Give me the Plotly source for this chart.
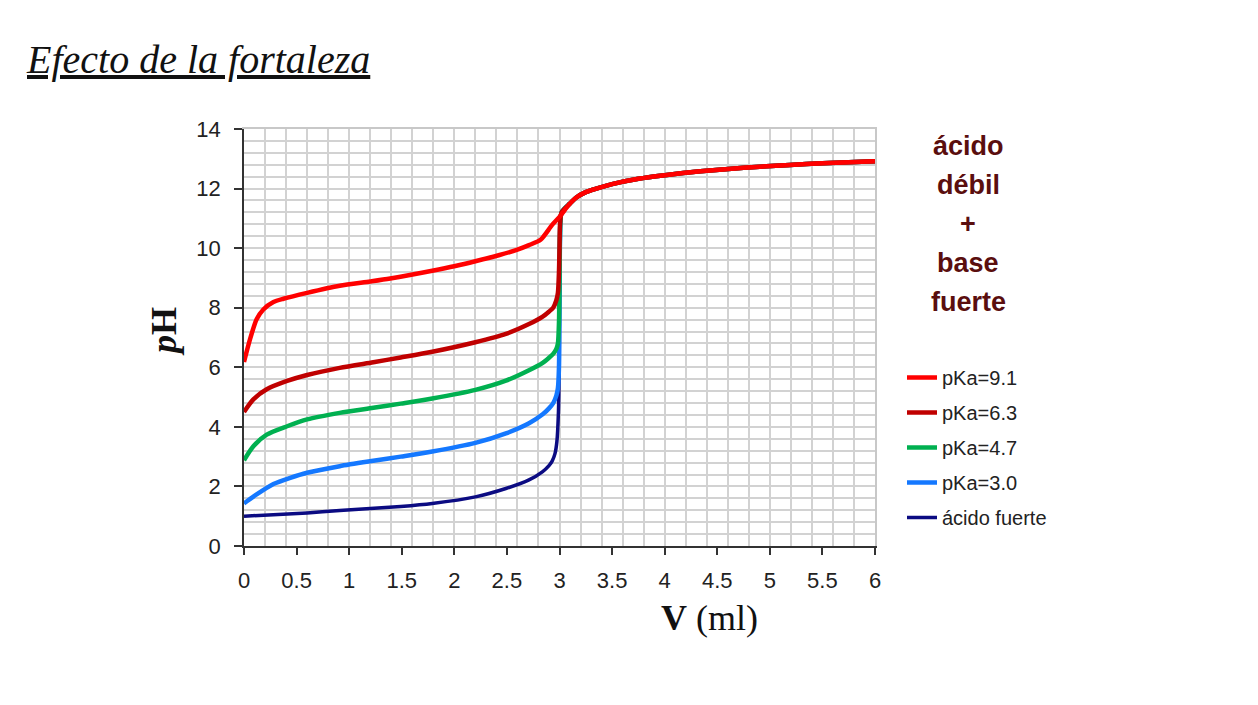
import plotly.graph_objects as go

# ---- data ----
# shared part after the equivalence point (all curves coincide there)
V_tail = [3.10, 3.16, 3.25, 3.35, 3.5, 3.75, 4.0, 4.34, 4.75, 5.19, 5.5, 6.0]
pH_tail = [11.50, 11.70, 11.88, 12.00, 12.15, 12.33, 12.45, 12.58, 12.70, 12.79, 12.85, 12.92]

V_pka91 = [0, 0.057, 0.12, 0.184, 0.28, 0.375, 0.6, 0.91, 1.2, 1.39, 1.79, 2.01, 2.2, 2.43, 2.6, 2.71, 2.82, 2.93, 3.0, 3.05]
pH_pka91 = [6.18, 6.94, 7.61, 7.94, 8.19, 8.30, 8.50, 8.74, 8.88, 8.98, 9.24, 9.40, 9.56, 9.77, 9.95, 10.1, 10.28, 10.78, 11.05, 11.28]

V_pka63 = [0, 0.089, 0.216, 0.41, 0.6, 0.91, 1.23, 1.49, 1.79, 2.2, 2.49, 2.71, 2.84, 2.9, 2.94, 2.97, 2.985, 2.995, 3.0, 3.005, 3.02]
pH_pka63 = [4.50, 4.92, 5.26, 5.54, 5.74, 5.98, 6.17, 6.33, 6.52, 6.84, 7.12, 7.45, 7.70, 7.87, 8.0, 8.25, 8.5, 9.2, 10.0, 10.8, 11.2]

V_pka47 = [0, 0.089, 0.216, 0.41, 0.6, 0.91, 1.23, 1.49, 1.79, 2.2, 2.49, 2.71, 2.84, 2.9, 2.94, 2.97, 2.985, 2.995, 3.0, 3.005, 3.02]
pH_pka47 = [2.88, 3.35, 3.74, 4.02, 4.25, 4.47, 4.64, 4.78, 4.95, 5.24, 5.55, 5.90, 6.15, 6.32, 6.45, 6.62, 6.8, 7.5, 8.8, 10.5, 11.2]

V_pka30 = [0, 0.12, 0.28, 0.44, 0.6, 0.91, 1.23, 1.49, 1.79, 2.2, 2.49, 2.71, 2.84, 2.9, 2.94, 2.97, 2.985, 2.995, 3.0, 3.005, 3.02]
pH_pka30 = [1.43, 1.73, 2.08, 2.29, 2.46, 2.68, 2.86, 3.0, 3.17, 3.46, 3.78, 4.12, 4.42, 4.62, 4.8, 5.05, 5.3, 6.0, 8.0, 10.3, 11.2]

V_fuerte = [0, 0.6, 0.91, 1.2, 1.49, 1.79, 2.2, 2.49, 2.71, 2.84, 2.9, 2.93, 2.957, 2.975, 2.99, 2.997, 3.0, 3.005, 3.02]
pH_fuerte = [1.0, 1.11, 1.19, 1.26, 1.33, 1.43, 1.65, 1.93, 2.22, 2.5, 2.7, 2.85, 3.1, 3.5, 4.5, 6.0, 8.0, 10.3, 11.2]

series_names = ["pKa=9.1", "pKa=6.3", "pKa=4.7", "pKa=3.0", "ácido fuerte"]
x_ticks = [0, 0.5, 1, 1.5, 2, 2.5, 3, 3.5, 4, 4.5, 5, 5.5, 6]
y_ticks = [0, 2, 4, 6, 8, 10, 12, 14]
side_text = ["ácido", "débil", "+", "base", "fuerte"]

# ---- figure ----
OFF = 8                      # page body margin of the browser
W, H = 1258 - 2 * OFF, 705 - 2 * OFF
# plot area, in page pixels
L, R, T, B = 244, 875, 129, 546


def px(xp):   # page x pixel -> paper x
    return (xp - L) / (R - L)


def py(yp):   # page y pixel -> paper y
    return (B - yp) / (B - T)


series = [
    # drawn bottom-to-top: strong acid first, pKa=9.1 last
    (series_names[4], V_fuerte, pH_fuerte, "#0b0b82", 3.5, 5),
    (series_names[3], V_pka30, pH_pka30, "#1478ff", 4.5, 4),
    (series_names[2], V_pka47, pH_pka47, "#00b050", 4.5, 3),
    (series_names[1], V_pka63, pH_pka63, "#c00000", 4.5, 2),
    (series_names[0], V_pka91, pH_pka91, "#ff0000", 4.5, 1),
]

fig = go.Figure()
for name, vx, vy, col, lw, rank in series:
    fig.add_trace(go.Scatter(
        x=list(vx) + V_tail, y=list(vy) + pH_tail, mode="lines", name=name,
        line=dict(color=col, width=lw, shape="spline", smoothing=0.7),
        legendrank=rank, legendgroup=name,
        hoverinfo="skip", xaxis="x", yaxis="y",
    ))

# invisible trace so the tick-carrying overlay axes get drawn
fig.add_trace(go.Scatter(x=[None], y=[None], xaxis="x2", yaxis="y2",
                         showlegend=False, hoverinfo="skip"))

grid_col = "#d2d2d2"
sans = "Liberation Sans, Arial, sans-serif"
serif = "Liberation Serif, Times New Roman, serif"
tick_font = dict(family=sans, size=22, color="#222222")

fig.update_layout(
    width=W, height=H,
    paper_bgcolor="white", plot_bgcolor="white",
    margin=dict(l=L - OFF, r=W - (R - OFF), t=T - OFF, b=H - (B - OFF), pad=0),
    xaxis=dict(range=[0, 6], tick0=0, dtick=0.2, showgrid=True, gridcolor=grid_col,
               gridwidth=2, showticklabels=False, ticks="", zeroline=False,
               showline=True, linecolor="#c8c8c8", linewidth=2, mirror=True, fixedrange=True),
    yaxis=dict(range=[0, 14], tick0=0, dtick=0.4, showgrid=True, gridcolor=grid_col,
               gridwidth=2, showticklabels=False, ticks="", zeroline=False,
               showline=True, linecolor="#c8c8c8", linewidth=2, mirror=True, fixedrange=True),
    xaxis2=dict(overlaying="x", anchor="y2", side="bottom", range=[0, 6],
                tickvals=x_ticks, ticktext=[str(v) for v in x_ticks],
                ticks="outside", ticklen=7, tickwidth=1.5, tickcolor="#333333",
                showline=True, linecolor="#333333", linewidth=1.5, showgrid=False,
                zeroline=False, tickfont=tick_font, ticklabelstandoff=7, fixedrange=True),
    yaxis2=dict(overlaying="y", anchor="x2", side="left", range=[0, 14],
                tickvals=y_ticks, ticktext=[str(v) for v in y_ticks],
                ticks="outside", ticklen=8, tickwidth=1.5, tickcolor="#333333",
                showline=True, linecolor="#333333", linewidth=1.5, showgrid=False,
                zeroline=False, tickfont=tick_font, ticklabelstandoff=9, fixedrange=True),
    legend=dict(x=px(902), y=py(358), xanchor="left", yanchor="top",
                font=dict(family=sans, size=20, color="#222222"),
                bgcolor="rgba(0,0,0,0)", tracegroupgap=6, itemwidth=30),
    title=dict(text="<u>Efecto de la fortaleza</u>", x=(27 - OFF) / W, xanchor="left",
               y=1 - (59 - OFF) / H, yanchor="middle", xref="container", yref="container",
               font=dict(family=serif, size=40, color="#111111", style="italic")),
    showlegend=True,
)

# axis titles
fig.add_annotation(text="<b><i>p</i>H</b>", xref="paper", yref="paper",
                   x=px(164), y=py(332), textangle=-90,
                   showarrow=False, font=dict(family=serif, size=36, color="#111111"),
                   xanchor="center", yanchor="middle")
fig.add_annotation(text="<b>V</b> (ml)", xref="paper", yref="paper",
                   x=px(709), y=py(618),
                   showarrow=False, font=dict(family=serif, size=36, color="#111111"),
                   xanchor="center", yanchor="middle")

# side label
side_y = [146, 185, 224, 263, 302]
for txt, yy in zip(side_text, side_y):
    fig.add_annotation(text="<b>" + txt + "</b>", xref="paper", yref="paper",
                       x=px(968), y=py(yy), showarrow=False,
                       font=dict(family=sans, size=27, color="#5a0e0e"),
                       xanchor="center", yanchor="middle")

fig.write_html("out.html")
